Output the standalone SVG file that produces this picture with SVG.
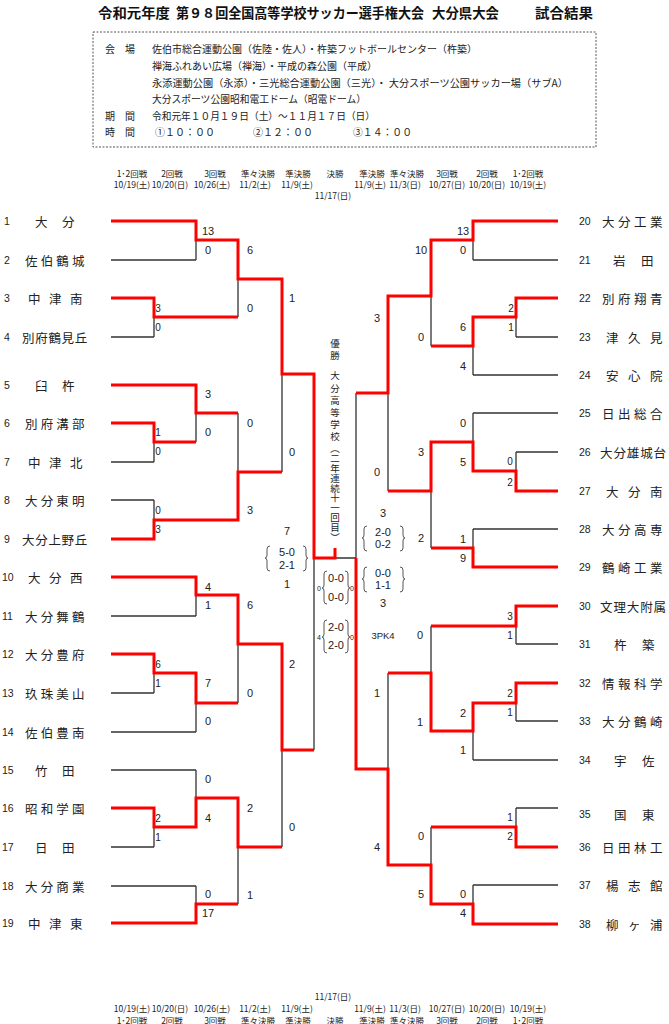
<svg xmlns="http://www.w3.org/2000/svg" width="669" height="1024" viewBox="0 0 669 1024">
<style>
text{font-family:"Noto Sans CJK JP","Noto Sans CJK SC",sans-serif;fill:#222;dominant-baseline:central}
.tt{font-size:13.5px;font-weight:bold;fill:#111}
.inf{font-size:10px}
.hd{font-size:8.5px;text-anchor:middle}
.nm{font-size:12.5px}
.no{font-family:"Liberation Sans",Arial,sans-serif;font-size:10.5px}
.sc{font-family:"Liberation Sans",Arial,sans-serif;font-size:11px;text-anchor:middle}
.s1{font-family:"Liberation Sans",Arial,sans-serif;font-size:10px;text-anchor:middle}
.sm{font-family:"Liberation Sans",Arial,sans-serif;font-size:7px;text-anchor:middle}
.vt{font-size:9.5px;writing-mode:vertical-rl}
.k{stroke:#333;stroke-width:1.3;fill:none}
.r{stroke:#f00;stroke-width:3;fill:none;stroke-linejoin:miter}
.br{stroke:#444;stroke-width:0.9;fill:none}
</style>
<rect width="669" height="1024" fill="#fff"/>

<g id="title">
<text class="tt" x="98" y="12" textLength="72" lengthAdjust="spacingAndGlyphs">令和元年度</text>
<text class="tt" x="176" y="12" textLength="248" lengthAdjust="spacingAndGlyphs">第９８回全国高等学校サッカー選手権大会</text>
<text class="tt" x="432" y="12" textLength="67" lengthAdjust="spacingAndGlyphs">大分県大会</text>
<text class="tt" x="535" y="12" textLength="58" lengthAdjust="spacingAndGlyphs">試合結果</text>
</g>

<g id="info">
<rect x="93" y="32" width="503" height="115" fill="none" stroke="#555" stroke-width="1" stroke-dasharray="2 1.5"/>
<text class="inf" x="105" y="48">会　場</text>
<text class="inf" x="152" y="48" textLength="325" lengthAdjust="spacingAndGlyphs">佐伯市総合運動公園（佐陸・佐人）・杵築フットボールセンター（杵築）</text>
<text class="inf" x="152" y="65" textLength="225" lengthAdjust="spacingAndGlyphs">禅海ふれあい広場（禅海）・平成の森公園（平成）</text>
<text class="inf" x="152" y="82" textLength="416" lengthAdjust="spacingAndGlyphs">永添運動公園（永添）・三光総合運動公園（三光）・ 大分スポーツ公園サッカー場（サブA）</text>
<text class="inf" x="152" y="98" textLength="214" lengthAdjust="spacingAndGlyphs">大分スポーツ公園昭和電工ドーム（昭電ドーム）</text>
<text class="inf" x="105" y="115">期　間</text>
<text class="inf" x="152" y="115" textLength="223" lengthAdjust="spacingAndGlyphs">令和元年１０月１９日（土）～１１月１７日（日）</text>
<text class="inf" x="105" y="131">時　間</text>
<text class="inf" x="155" y="131" textLength="60" lengthAdjust="spacingAndGlyphs">①１０：００</text>
<text class="inf" x="253" y="131" textLength="60" lengthAdjust="spacingAndGlyphs">②１２：００</text>
<text class="inf" x="353" y="131" textLength="59" lengthAdjust="spacingAndGlyphs">③１４：００</text>
</g>

<g id="rounds-top">
<text class="hd" x="132" y="173">1･2回戦</text><text class="hd" x="132" y="184">10/19(土)</text>
<text class="hd" x="172" y="173">2回戦</text><text class="hd" x="170" y="184">10/20(日)</text>
<text class="hd" x="215" y="173">3回戦</text><text class="hd" x="212" y="184">10/26(土)</text>
<text class="hd" x="258" y="173">準々決勝</text><text class="hd" x="255" y="184">11/2(土)</text>
<text class="hd" x="298" y="173">準決勝</text><text class="hd" x="297" y="184">11/9(土)</text>
<text class="hd" x="335" y="173">決勝</text><text class="hd" x="333" y="195">11/17(日)</text>
<text class="hd" x="372" y="173">準決勝</text><text class="hd" x="370" y="184">11/9(土)</text>
<text class="hd" x="407" y="173">準々決勝</text><text class="hd" x="405" y="184">11/3(日)</text>
<text class="hd" x="447" y="173">3回戦</text><text class="hd" x="447" y="184">10/27(日)</text>
<text class="hd" x="487" y="173">2回戦</text><text class="hd" x="487" y="184">10/20(日)</text>
<text class="hd" x="528" y="173">1･2回戦</text><text class="hd" x="528" y="184">10/19(土)</text>
</g>

<g id="rounds-bottom">
<text class="hd" x="333" y="996">11/17(日)</text>
<text class="hd" x="132" y="1008">10/19(土)</text><text class="hd" x="132" y="1020">1･2回戦</text>
<text class="hd" x="170" y="1008">10/20(日)</text><text class="hd" x="172" y="1020">2回戦</text>
<text class="hd" x="212" y="1008">10/26(土)</text><text class="hd" x="215" y="1020">3回戦</text>
<text class="hd" x="255" y="1008">11/2(土)</text><text class="hd" x="258" y="1020">準々決勝</text>
<text class="hd" x="297" y="1008">11/9(土)</text><text class="hd" x="298" y="1020">準決勝</text>
<text class="hd" x="335" y="1020">決勝</text>
<text class="hd" x="370" y="1008">11/9(土)</text><text class="hd" x="372" y="1020">準決勝</text>
<text class="hd" x="405" y="1008">11/3(日)</text><text class="hd" x="407" y="1020">準々決勝</text>
<text class="hd" x="447" y="1008">10/27(日)</text><text class="hd" x="447" y="1020">3回戦</text>
<text class="hd" x="487" y="1008">10/20(日)</text><text class="hd" x="487" y="1020">2回戦</text>
<text class="hd" x="528" y="1008">10/19(土)</text><text class="hd" x="528" y="1020">1･2回戦</text>
</g>

<g id="connectors">
<path class="k" d="M111 221H196M111 260H196M111 298H154M111 337H154M111 385H196M111 423H154M111 462H154M111 500H154M111 539H154M111 577H196M111 616H196M111 654H154M111 693H154M111 732H196M111 770H196M111 808H154M111 847H154M111 886H196M111 923H196
M154 298V337M154 423V462M154 500V539M154 654V693M154 808V847
M154 317H238M154 442H196M154 520H238M154 673H196M154 827H196
M196 221V260M196 385V442M196 577V616M196 673V732M196 770V827M196 886V923
M196 240H238M196 413H238M196 595H238M196 703H238M196 798H238M196 904H238
M238 240V317M238 413V520M238 595V703M238 798V904
M238 279H282M238 472H282M238 644H282M238 847H282
M282 279V472M282 644V847M282 374H314M282 750H314M314 374V750M314 558H356"/>
<path class="k" d="M473 221H558M473 260H558M516 298H558M516 337H558M473 375H558M473 413H558M516 452H558M516 491H558M473 529H558M473 567H558M516 606H558M516 644H558M516 683H558M516 721H558M473 760H558M516 808H558M516 847H558M473 885H558M473 924H558
M516 298V337M516 452V491M516 606V644M516 683V721M516 808V847
M516 317H473M516 471H473M516 626H431M516 703H473M516 827H431
M473 221V260M473 317V375M473 413V471M473 529V567M473 703V760M473 885V924
M473 240H431M473 346H431M473 442H431M473 548H431M473 731H431M473 904H431
M431 240V346M431 442V548M431 626V731M431 827V904
M431 296H388M431 491H388M431 673H388M431 865H388
M388 296V491M388 673V865M388 393H356M388 769H356M356 393V769"/>
<path class="r" d="M111 221H196V240H238V279H282V374H314V558H335V548"/>
<path class="r" d="M111 298H154V317H238"/>
<path class="r" d="M111 385H196V413H238"/>
<path class="r" d="M111 423H154V442H196"/>
<path class="r" d="M111 539H154V520H238V472H282"/>
<path class="r" d="M111 577H196V595H238V644H282V750H314"/>
<path class="r" d="M111 654H154V673H196V703H238"/>
<path class="r" d="M111 808H154V827H196V798H238V847H282"/>
<path class="r" d="M111 923H196V904H238"/>
<path class="r" d="M558 221H473V240H431V296H388V393H356"/>
<path class="r" d="M558 298H516V317H473V346H431"/>
<path class="r" d="M558 491H516V471H473V442H431V491H388"/>
<path class="r" d="M558 567H473V548H431"/>
<path class="r" d="M558 606H516V626H431"/>
<path class="r" d="M558 683H516V703H473V731H431V673H388"/>
<path class="r" d="M558 847H516V827H431"/>
<path class="r" d="M558 924H473V904H431V865H388V769H356V558"/>
</g>

<g id="teams-left">
<g id="t1"><text class="no" x="4" y="221">1</text><text class="nm" x="35 62" y="221">大分</text></g>
<g id="t2"><text class="no" x="4" y="260">2</text><text class="nm" x="25 40.7 56.3 72" y="260">佐伯鶴城</text></g>
<g id="t3"><text class="no" x="4" y="298">3</text><text class="nm" x="28 49 70" y="298">中津南</text></g>
<g id="t4"><text class="no" x="4" y="337">4</text><text class="nm" x="22 35.2 48.4 61.6 74.8" y="337">別府鶴見丘</text></g>
<g id="t5"><text class="no" x="4" y="385">5</text><text class="nm" x="35 62" y="385">臼杵</text></g>
<g id="t6"><text class="no" x="4" y="423">6</text><text class="nm" x="25 40.7 56.3 72" y="423">別府溝部</text></g>
<g id="t7"><text class="no" x="4" y="462">7</text><text class="nm" x="28 49 70" y="462">中津北</text></g>
<g id="t8"><text class="no" x="4" y="500">8</text><text class="nm" x="25 40.7 56.3 72" y="500">大分東明</text></g>
<g id="t9"><text class="no" x="4" y="539">9</text><text class="nm" x="22 35.2 48.4 61.6 74.8" y="539">大分上野丘</text></g>
<g id="t10"><text class="no" x="2" y="577">10</text><text class="nm" x="28 49 70" y="577">大分西</text></g>
<g id="t11"><text class="no" x="2" y="616">11</text><text class="nm" x="25 40.7 56.3 72" y="616">大分舞鶴</text></g>
<g id="t12"><text class="no" x="2" y="654">12</text><text class="nm" x="25 40.7 56.3 72" y="654">大分豊府</text></g>
<g id="t13"><text class="no" x="2" y="693">13</text><text class="nm" x="25 40.7 56.3 72" y="693">玖珠美山</text></g>
<g id="t14"><text class="no" x="2" y="732">14</text><text class="nm" x="25 40.7 56.3 72" y="732">佐伯豊南</text></g>
<g id="t15"><text class="no" x="2" y="770">15</text><text class="nm" x="35 62" y="770">竹田</text></g>
<g id="t16"><text class="no" x="2" y="808">16</text><text class="nm" x="25 40.7 56.3 72" y="808">昭和学園</text></g>
<g id="t17"><text class="no" x="2" y="847">17</text><text class="nm" x="35 62" y="847">日田</text></g>
<g id="t18"><text class="no" x="2" y="886">18</text><text class="nm" x="25 40.7 56.3 72" y="886">大分商業</text></g>
<g id="t19"><text class="no" x="2" y="923">19</text><text class="nm" x="28 49 70" y="923">中津東</text></g>
</g>

<g id="teams-right">
<g id="t20"><text class="no" x="579" y="221">20</text><text class="nm" x="602 618 634 650" y="221">大分工業</text></g>
<g id="t21"><text class="no" x="579" y="260">21</text><text class="nm" x="613 641" y="260">岩田</text></g>
<g id="t22"><text class="no" x="579" y="298">22</text><text class="nm" x="602 618 634 650" y="298">別府翔青</text></g>
<g id="t23"><text class="no" x="579" y="337">23</text><text class="nm" x="606 628 650" y="337">津久見</text></g>
<g id="t24"><text class="no" x="579" y="375">24</text><text class="nm" x="606 628 650" y="375">安心院</text></g>
<g id="t25"><text class="no" x="579" y="413">25</text><text class="nm" x="602 618 634 650" y="413">日出総合</text></g>
<g id="t26"><text class="no" x="579" y="452">26</text><text class="nm" x="600 613.4 626.8 640.2 653.6" y="452">大分雄城台</text></g>
<g id="t27"><text class="no" x="579" y="491">27</text><text class="nm" x="606 628 650" y="491">大分南</text></g>
<g id="t28"><text class="no" x="579" y="529">28</text><text class="nm" x="602 618 634 650" y="529">大分高専</text></g>
<g id="t29"><text class="no" x="579" y="567">29</text><text class="nm" x="602 618 634 650" y="567">鶴崎工業</text></g>
<g id="t30"><text class="no" x="579" y="606">30</text><text class="nm" x="600 613.4 626.8 640.2 653.6" y="606">文理大附属</text></g>
<g id="t31"><text class="no" x="579" y="644">31</text><text class="nm" x="614 642" y="644">杵築</text></g>
<g id="t32"><text class="no" x="579" y="683">32</text><text class="nm" x="602 618 634 650" y="683">情報科学</text></g>
<g id="t33"><text class="no" x="579" y="721">33</text><text class="nm" x="602 618 634 650" y="721">大分鶴崎</text></g>
<g id="t34"><text class="no" x="579" y="760">34</text><text class="nm" x="614 642" y="760">宇佐</text></g>
<g id="t35"><text class="no" x="579" y="814">35</text><text class="nm" x="614 642" y="814">国東</text></g>
<g id="t36"><text class="no" x="579" y="847">36</text><text class="nm" x="602 618 634 650" y="847">日田林工</text></g>
<g id="t37"><text class="no" x="579" y="885">37</text><text class="nm" x="606 628 650" y="885">楊志館</text></g>
<g id="t38"><text class="no" x="579" y="924">38</text><text class="nm" x="606 628 650" y="924">柳ヶ浦</text></g>
</g>

<g id="scores-left">
<text class="s1" x="158" y="308">3</text><text class="s1" x="158" y="327">0</text>
<text class="s1" x="158" y="432">1</text><text class="s1" x="158" y="451">0</text>
<text class="s1" x="158" y="510">0</text><text class="s1" x="158" y="529">3</text>
<text class="s1" x="158" y="664">6</text><text class="s1" x="158" y="683">1</text>
<text class="s1" x="158" y="818">2</text><text class="s1" x="158" y="837">1</text>
<text class="sc" x="208" y="231">13</text><text class="sc" x="208" y="250">0</text>
<text class="sc" x="208" y="394">3</text><text class="sc" x="208" y="432">0</text>
<text class="sc" x="208" y="587">4</text><text class="sc" x="208" y="605">1</text>
<text class="sc" x="208" y="683">7</text><text class="sc" x="208" y="721">0</text>
<text class="sc" x="208" y="779">0</text><text class="sc" x="208" y="818">4</text>
<text class="sc" x="208" y="894">0</text><text class="sc" x="208" y="913">17</text>
<text class="sc" x="250" y="250">6</text><text class="sc" x="250" y="308">0</text>
<text class="sc" x="250" y="423">0</text><text class="sc" x="250" y="510">3</text>
<text class="sc" x="250" y="605">6</text><text class="sc" x="250" y="693">0</text>
<text class="sc" x="250" y="808">2</text><text class="sc" x="250" y="895">1</text>
<text class="sc" x="292" y="298">1</text><text class="sc" x="292" y="452">0</text>
<text class="sc" x="292" y="664">2</text><text class="sc" x="292" y="827">0</text>
<text class="sc" x="287" y="531">7</text>
<text class="sc" x="287" y="552">5-0</text><text class="sc" x="287" y="565">2-1</text>
<text class="sc" x="287" y="584">1</text>
<path class="br" d="M270 546Q267 546 267 549V555Q267 558 265 558Q267 558 267 561V568Q267 571 270 571"/>
<path class="br" d="M303 546Q306 546 306 549V555Q306 558 308 558Q306 558 306 561V568Q306 571 303 571"/>
</g>

<g id="scores-right">
<text class="s1" x="511" y="308">2</text><text class="s1" x="511" y="327">1</text>
<text class="s1" x="510" y="461">0</text><text class="s1" x="510" y="482">2</text>
<text class="s1" x="510" y="616">3</text><text class="s1" x="510" y="635">1</text>
<text class="s1" x="510" y="693">2</text><text class="s1" x="510" y="712">1</text>
<text class="s1" x="510" y="817">1</text><text class="s1" x="510" y="836">2</text>
<text class="sc" x="463" y="231">13</text><text class="sc" x="463" y="250">0</text>
<text class="sc" x="463" y="327">6</text><text class="sc" x="463" y="366">4</text>
<text class="sc" x="463" y="423">0</text><text class="sc" x="463" y="462">5</text>
<text class="sc" x="463" y="539">1</text><text class="sc" x="463" y="558">9</text>
<text class="sc" x="463" y="713">2</text><text class="sc" x="463" y="750">1</text>
<text class="sc" x="463" y="894">0</text><text class="sc" x="463" y="913">4</text>
<text class="sc" x="421" y="250">10</text><text class="sc" x="421" y="337">0</text>
<text class="sc" x="421" y="452">3</text><text class="sc" x="421" y="538">2</text>
<text class="sc" x="420" y="635">0</text><text class="sc" x="420" y="722">1</text>
<text class="sc" x="421" y="836">0</text><text class="sc" x="421" y="894">5</text>
<text class="sc" x="377" y="318">3</text><text class="sc" x="377" y="472">0</text>
<text class="sc" x="377" y="693">1</text><text class="sc" x="377" y="847">4</text>
<text class="sc" x="383" y="513">3</text>
<text class="sc" x="383" y="532">2-0</text><text class="sc" x="383" y="544">0-2</text>
<path class="br" d="M367 526Q364 526 364 529V535Q364 538 362 538Q364 538 364 541V548Q364 551 367 551"/>
<path class="br" d="M400 526Q403 526 403 529V535Q403 538 405 538Q403 538 403 541V548Q403 551 400 551"/>
<text class="sc" x="383" y="573">0-0</text><text class="sc" x="383" y="585">1-1</text>
<path class="br" d="M367 567Q364 567 364 570V576Q364 579 362 579Q364 579 364 582V589Q364 592 367 592"/>
<path class="br" d="M400 567Q403 567 403 570V576Q403 579 405 579Q403 579 403 582V589Q403 592 400 592"/>
<text class="sc" x="383" y="603">3</text>
<text class="sc" x="383" y="635" style="font-size:9.5px">3PK4</text>
</g>

<g id="final">
<text class="sm" x="319" y="588">0</text><text class="sm" x="352" y="588">0</text>
<text class="sc" x="336" y="578">0-0</text><text class="sc" x="336" y="597">0-0</text>
<path class="br" d="M327 571Q324 571 324 574V585Q324 588 322 588Q324 588 324 591V601Q324 604 327 604"/>
<path class="br" d="M345 571Q348 571 348 574V585Q348 588 350 588Q348 588 348 591V601Q348 604 345 604"/>
<text class="sm" x="319" y="637">4</text><text class="sm" x="352" y="637">0</text>
<text class="sc" x="336" y="627">2-0</text><text class="sc" x="336" y="645">2-0</text>
<path class="br" d="M327 620Q324 620 324 623V634Q324 637 322 637Q324 637 324 640V650Q324 653 327 653"/>
<path class="br" d="M345 620Q348 620 348 623V634Q348 637 350 637Q348 637 348 640V650Q348 653 345 653"/>
</g>

<g id="champion">
<text class="vt" x="335" y="339" style="letter-spacing:2.5px">優勝</text>
<text class="vt" x="335" y="371" style="letter-spacing:2.7px">大分高等学校</text>
<text class="vt" x="335" y="444" style="letter-spacing:0.3px">（二年連続十一回目）</text>
</g>
</svg>
